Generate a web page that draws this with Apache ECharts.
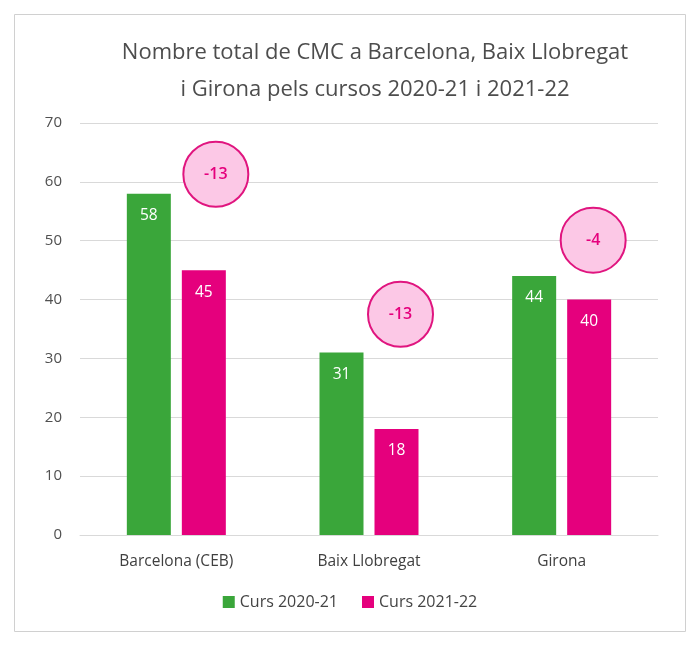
<!DOCTYPE html>
<html><head><meta charset="utf-8">
<script src="https://cdn.jsdelivr.net/npm/echarts@6/dist/echarts.min.js"></script>
<style>html,body{margin:0;padding:0;background:#fff}#c{width:700px;height:658px}</style>
</head><body><div id="c"></div>
<script>
const categories = ['Barcelona (CEB)', 'Baix Llobregat', 'Girona'];
const curs2020 = [58, 31, 44];
const curs2021 = [45, 18, 40];
const diffLabels = ['-13', '-13', '-4'];
const diffHeights = [61.3, 37.5, 50.1];
const yTicks = [0, 10, 20, 30, 40, 50, 60, 70];

const circleShift = [12, 4, 4];
const FONT = '"Open Sans", "Noto Sans", sans-serif';
const chart = echarts.init(document.getElementById('c'), null, {renderer: 'canvas'});
chart.setOption({
  animation: false,
  backgroundColor: '#fff',
  textStyle: {fontFamily: FONT},
  graphic: [{type: 'rect', shape: {x: 14.5, y: 14.5, width: 671, height: 617}, style: {fill: 'none', stroke: '#d0d0d0', lineWidth: 1}, z: -10}],
  title: {
    text: 'Nombre total de CMC a Barcelona, Baix Llobregat\ni Girona pels cursos 2020-21 i 2021-22',
    left: 370, top: 29, textAlign: 'center',
    textStyle: {fontFamily: FONT, fontSize: 22, fontWeight: 'normal', color: '#4d4d4d', lineHeight: 37}
  },
  legend: {
    bottom: 43, left: 'center', itemWidth: 12, itemHeight: 12, itemGap: 24, icon: 'rect',
    textStyle: {fontFamily: FONT, fontSize: 16, color: '#444'},
    data: ['Curs 2020-21', 'Curs 2021-22']
  },
  grid: {left: 80, right: 42, top: 123, bottom: 123, containLabel: false},
  xAxis: {
    type: 'category', data: categories,
    axisLine: {lineStyle: {color: '#d9d9d9'}}, axisTick: {show: false},
    axisLabel: {fontFamily: FONT, fontSize: 15.5, color: '#404040', margin: 19}
  },
  yAxis: {
    type: 'value', min: 0, max: 70, interval: 10,
    axisLine: {show: false}, axisTick: {show: false},
    axisLabel: {fontFamily: FONT, fontSize: 15, color: '#505050', margin: 18,
      formatter: v => yTicks.includes(v) ? String(v) : ''},
    splitLine: {lineStyle: {color: '#d9d9d9'}}
  },
  series: [
    {name: 'Curs 2020-21', type: 'bar', data: curs2020, barWidth: 44, barGap: '25%',
      itemStyle: {color: '#3aa63a'},
      label: {show: true, position: 'insideTop', distance: 14, color: '#fff', fontSize: 15.5, fontFamily: FONT}},
    {name: 'Curs 2021-22', type: 'bar', data: curs2021, barWidth: 44,
      itemStyle: {color: '#e5007d'},
      label: {show: true, position: 'insideTop', distance: 14, color: '#fff', fontSize: 15.5, fontFamily: FONT},
      markPoint: {
        symbol: 'circle', symbolSize: 65,
        itemStyle: {color: '#fcc8e6', borderColor: '#e0157f', borderWidth: 2},
        label: {show: true, color: '#e5007d', fontSize: 16, fontWeight: 600, fontFamily: FONT,
          formatter: p => p.name},
        data: categories.map((c, i) => ({name: diffLabels[i], coord: [c, diffHeights[i]], symbolOffset: [circleShift[i], 0]}))
      }}
  ]
});
</script></body></html>
